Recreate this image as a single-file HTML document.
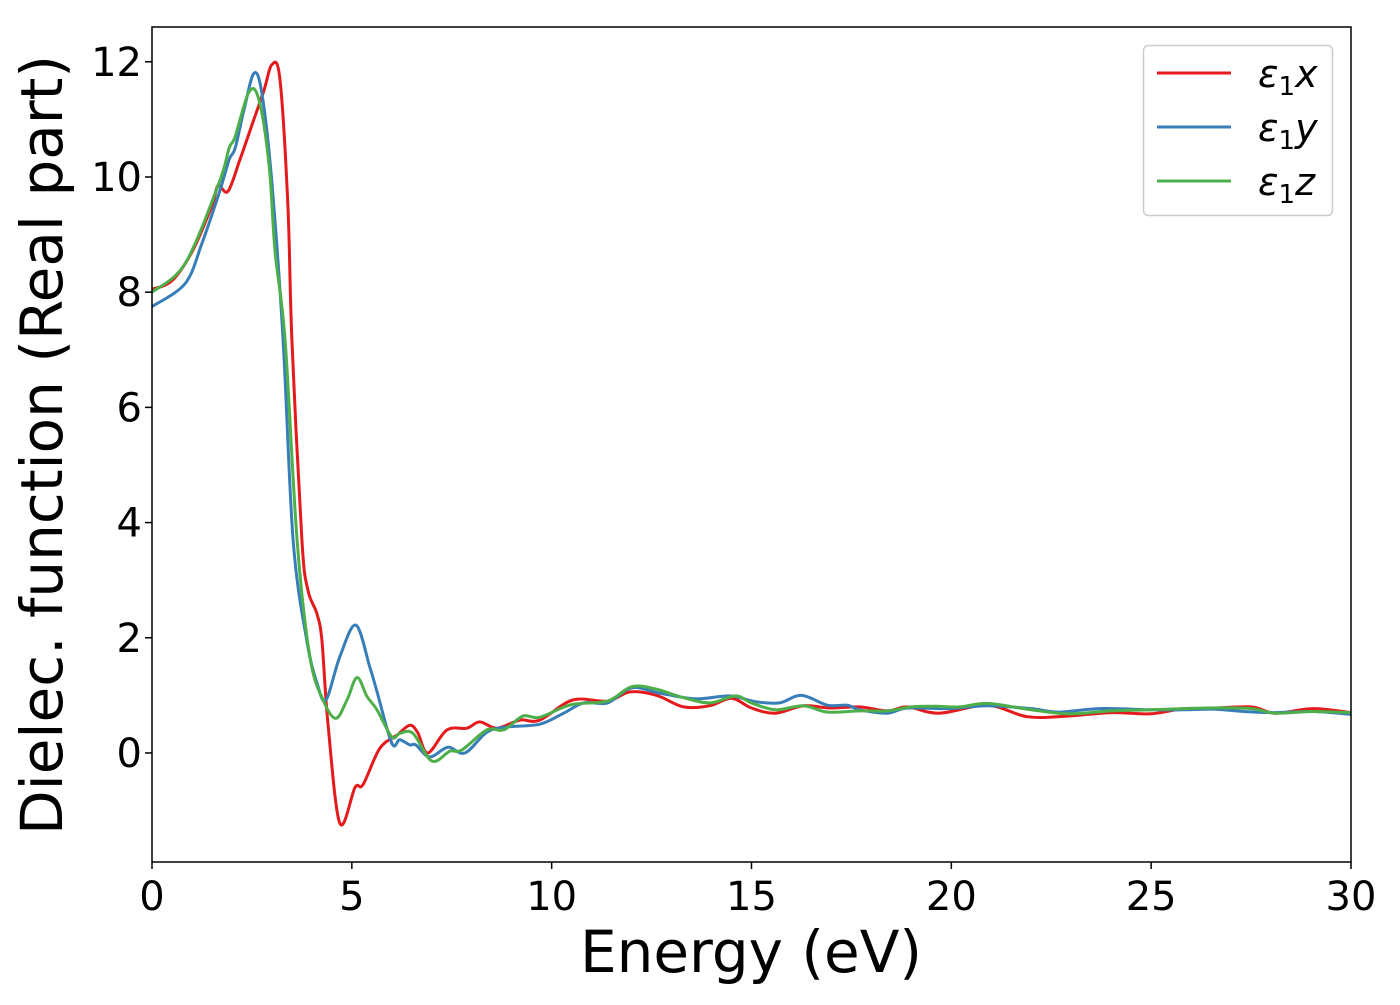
<!DOCTYPE html>
<html><head><meta charset="utf-8"><style>
body{margin:0;background:#fff}
svg text{font-family:"DejaVu Sans","Liberation Sans",sans-serif;fill:#000}
</style></head><body>
<svg id="chart" width="1400" height="1000">
<rect x="0" y="0" width="1400" height="1000" fill="#fff"/>
<g id="plot"></g>
<g id="axes"></g>
<text x="751" y="972" font-size="58" text-anchor="middle">Energy (eV)</text>
<text transform="translate(62,445) rotate(-90)" font-size="58" text-anchor="middle">Dielec. function (Real part)</text>
<g>
<rect x="1143.5" y="45.5" width="189" height="170" rx="5" fill="#fff" stroke="#ccc" stroke-width="1.5"/>
<line x1="1157" y1="73" x2="1231" y2="73" stroke="#e41a1c" stroke-width="3"/>
<text x="1258" y="87" font-size="38" font-style="italic">ε<tspan font-style="normal" font-size="26" dy="8">1</tspan><tspan dy="-8">x</tspan></text>
<line x1="1157" y1="127" x2="1231" y2="127" stroke="#377eb8" stroke-width="3"/>
<text x="1258" y="141" font-size="38" font-style="italic">ε<tspan font-style="normal" font-size="26" dy="8">1</tspan><tspan dy="-8">y</tspan></text>
<line x1="1157" y1="181" x2="1231" y2="181" stroke="#4daf4a" stroke-width="3"/>
<text x="1258" y="195" font-size="38" font-style="italic">ε<tspan font-style="normal" font-size="26" dy="8">1</tspan><tspan dy="-8">z</tspan></text>
</g>
</svg>
<script>
const xTicks=[0,5,10,15,20,25,30];
const yTicks=[0,2,4,6,8,10,12];
const redX=[0,0.5,1,1.5,1.65,1.9,2.2,2.5,2.8,3.0,3.2,3.4,3.5,3.75,3.9,4.12,4.25,4.4,4.7,5.08,5.28,5.7,6.13,6.45,6.65,6.9,7.38,7.88,8.2,8.63,9.2,9.7,10.53,11.4,11.96,12.63,13.3,13.96,14.5,15.0,15.6,16.3,16.96,17.7,18.4,18.9,19.7,20.9,21.9,22.9,24.0,25.0,25.8,26.4,27.5,28.1,29.05,30];
const redY=[8.05,8.2,8.7,9.5,9.85,9.75,10.3,10.9,11.5,11.95,11.7,9.5,7.17,3.7,2.83,2.43,1.96,0.52,-1.22,-0.6,-0.55,0.08,0.31,0.48,0.35,0.0,0.4,0.43,0.54,0.43,0.57,0.57,0.92,0.9,1.06,1.0,0.8,0.82,0.95,0.78,0.69,0.82,0.78,0.8,0.73,0.8,0.69,0.83,0.63,0.64,0.7,0.68,0.77,0.77,0.8,0.69,0.77,0.7];
const blueX=[0,0.83,1.25,1.68,1.93,2.08,2.3,2.55,2.75,3.0,3.28,3.53,3.87,4.13,4.35,4.7,5.1,5.45,5.62,6.0,6.2,6.45,6.6,6.95,7.4,7.83,8.38,8.88,9.7,10.3,10.8,11.4,12.0,12.7,13.6,14.46,15.1,15.7,16.25,16.9,17.4,17.7,18.4,18.9,19.96,20.9,22.0,22.7,23.7,25.0,25.8,26.6,27.3,28.1,29.05,30];
const blueY=[7.75,8.15,8.85,9.72,10.3,10.5,11.16,11.8,11.45,9.9,7.17,3.7,1.96,1.21,0.92,1.67,2.22,1.49,1.09,0.17,0.23,0.14,0.14,-0.07,0.1,0.0,0.36,0.45,0.5,0.69,0.87,0.87,1.13,1.04,0.94,0.99,0.89,0.87,1.0,0.83,0.83,0.75,0.69,0.78,0.77,0.82,0.77,0.71,0.77,0.75,0.75,0.76,0.72,0.70,0.72,0.67];
const greenX=[0,0.83,1.68,1.93,2.08,2.43,2.68,2.93,3.08,3.33,3.63,3.95,4.28,4.6,4.88,5.13,5.38,5.63,6.0,6.2,6.53,7.0,7.45,7.75,8.38,8.8,9.28,9.7,10.5,11.4,12.0,12.6,13.3,13.96,14.6,15.0,15.6,16.3,16.9,17.7,18.4,19.0,19.6,20.2,20.9,21.9,22.9,24.0,25.0,26.4,27.5,28.1,29.05,30];
const greenY=[8.0,8.5,9.9,10.5,10.7,11.48,11.33,10.2,8.7,7.17,3.7,1.67,0.92,0.6,0.92,1.31,0.98,0.75,0.28,0.34,0.34,-0.14,0.03,0.05,0.4,0.4,0.64,0.62,0.84,0.9,1.15,1.11,0.96,0.87,0.99,0.87,0.75,0.82,0.71,0.73,0.73,0.8,0.81,0.8,0.86,0.76,0.68,0.73,0.75,0.78,0.77,0.69,0.72,0.7];

const X0=152,X1=1351,YT=27,YB=862;
const xMin=0,xMax=30,yMin=-1.893,yMax=12.604;
const sx=v=>X0+(v-xMin)/(xMax-xMin)*(X1-X0);
const sy=v=>YB-(v-yMin)/(yMax-yMin)*(YB-YT);
const NS='http://www.w3.org/2000/svg';
const plot=document.getElementById('plot'),axes=document.getElementById('axes');
function mk(t,a,p){const e=document.createElementNS(NS,t);for(const k in a)e.setAttribute(k,a[k]);p.appendChild(e);return e;}
function path(xs,ys){
  const p=xs.map((x,i)=>[sx(x),sy(ys[i])]);
  let d='M'+p[0][0].toFixed(1)+','+p[0][1].toFixed(1);
  for(let i=0;i<p.length-1;i++){
    const p0=p[i-1]||p[i],p1=p[i],p2=p[i+1],p3=p[i+2]||p2;
    const c1=[p1[0]+(p2[0]-p0[0])/6,p1[1]+(p2[1]-p0[1])/6];
    const c2=[p2[0]-(p3[0]-p1[0])/6,p2[1]-(p3[1]-p1[1])/6];
    d+='C'+c1.map(v=>v.toFixed(1))+' '+c2.map(v=>v.toFixed(1))+' '+p2[0].toFixed(1)+','+p2[1].toFixed(1);
  }
  return d;
}
mk('clipPath',{id:'clip'},plot).appendChild(document.createElementNS(NS,'rect'));
const cr=plot.querySelector('clipPath rect');cr.setAttribute('x',X0);cr.setAttribute('y',YT);cr.setAttribute('width',X1-X0);cr.setAttribute('height',YB-YT);
const series=[[redX,redY,'#e41a1c','series-eps1-x'],[blueX,blueY,'#377eb8','series-eps1-y'],[greenX,greenY,'#4daf4a','series-eps1-z']];
for(const s of series){
  const el=mk('path',{d:path(s[0],s[1]),fill:'none',stroke:s[2],'stroke-width':3,'clip-path':'url(#clip)','stroke-linejoin':'round'},plot);
  
  
}
const frame=mk('rect',{x:X0,y:YT,width:X1-X0,height:YB-YT,fill:'none',stroke:'#000','stroke-width':1.5},axes);


for(const t of xTicks){
  const tk=mk('line',{x1:sx(t),x2:sx(t),y1:YB,y2:YB+7,stroke:'#000','stroke-width':1.5},axes);
  
  
  const lb=mk('text',{x:sx(t),y:YB+48,'font-size':40,'text-anchor':'middle'},axes);lb.textContent=t;
  
  
}
for(const t of yTicks){
  const tk=mk('line',{x1:X0-7,x2:X0,y1:sy(t),y2:sy(t),stroke:'#000','stroke-width':1.5},axes);
  
  
  const lb=mk('text',{x:X0-10,y:sy(t)+14,'font-size':40,'text-anchor':'end'},axes);lb.textContent=t;
  
  
}
</script>
</body></html>
